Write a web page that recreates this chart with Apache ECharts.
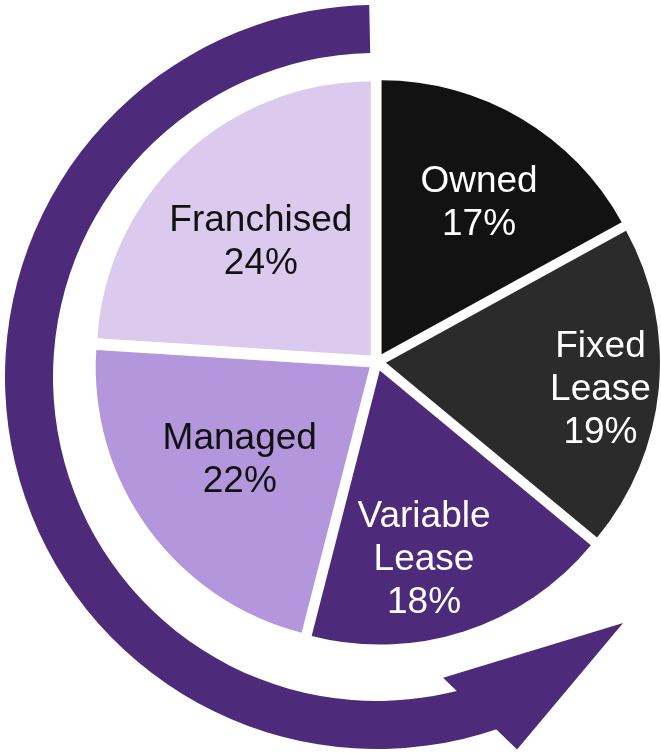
<!DOCTYPE html>
<html>
<head>
<meta charset="utf-8">
<script src="https://cdn.jsdelivr.net/npm/echarts@6/dist/echarts.min.js"></script>
<style>
  html, body { margin: 0; padding: 0; background: #fff; }
  #main { width: 661px; height: 753px; }
</style>
</head>
<body>
<div id="main"></div>
<script>
// data
const categories = ['Owned', 'Fixed Lease', 'Variable Lease', 'Managed', 'Franchised'];
const shares = [17, 19, 18, 22, 24];
const sliceColors = ['#121212', '#2b2b2b', '#4e2a7a', '#b396db', '#dccaee'];
const labelColors = ['#fff', '#fff', '#fff', '#111', '#111'];
// label spot: angle (deg clockwise from top) and distance from pie centre
const labelAngle = [32.8, 97.1, 166.7, 234.5, 315.8];
const labelDist = [185.5, 222.2, 200.3, 165.6, 163.6];

const pieCenter = [377, 362];
const pieR = 274;
const explode = 9;
const arcCenter = [377, 377];
const purple = '#4e2a7a';

const total = shares.reduce((a, b) => a + b, 0);
// bisector of each slice, degrees clockwise from 12 o'clock
const mids = [];
let acc = 0;
shares.forEach(v => { mids.push((acc + v / 2) / total * 360); acc += v; });

function dir(deg) {
  const a = deg * Math.PI / 180;
  return [Math.sin(a), -Math.cos(a)];
}

// point on the arrow circle, angle clockwise from top
function polar(deg, r) {
  const d = dir(deg);
  return [arcCenter[0] + r * d[0], arcCenter[1] + r * d[1]];
}

const chart = echarts.init(document.getElementById('main'));
const option = {
  animation: false,
  backgroundColor: '#fff',
  graphic: [
    {
      type: 'sector',
      z: 1,
      shape: {
        cx: arcCenter[0], cy: arcCenter[1], r0: 324, r: 372,
        startAngle: 71 * Math.PI / 180,
        endAngle: 268.8 * Math.PI / 180,
        clockwise: true
      },
      style: { fill: purple }
    },
    {
      type: 'polygon',
      z: 1,
      shape: { points: [polar(135, 348), polar(167.6, 308), polar(159.4, 398)] },
      style: { fill: purple }
    }
  ],
  series: [
    {
      type: 'pie',
      center: pieCenter,
      radius: [0, pieR],
      startAngle: 90,
      clockwise: true,
      selectedMode: 'multiple',
      selectedOffset: explode,
      itemStyle: { borderWidth: 0 },
      emphasis: { disabled: true },
      label: {
        show: true,
        position: 'inside',
        fontFamily: 'Liberation Sans, Arial, sans-serif',
        fontSize: 37,
        lineHeight: 43,
        align: 'center',
        formatter: p => p.name.replace(' ', '\n') + '\n' + p.value + '%'
      },
      labelLine: { show: false },
      labelLayout: function (params) {
        const i = params.dataIndex;
        // default inside spot is half radius along the bisector (+ explode)
        const d0 = dir(mids[i]);
        const r0 = pieR / 2 + explode;
        const d1 = dir(labelAngle[i]);
        return {
          dx: d1[0] * labelDist[i] - d0[0] * r0,
          dy: d1[1] * labelDist[i] - d0[1] * r0,
          hideOverlap: false
        };
      },
      data: categories.map((name, i) => ({
        name: name,
        value: shares[i],
        selected: true,
        itemStyle: { color: sliceColors[i] },
        label: { color: labelColors[i] }
      }))
    }
  ]
};
chart.setOption(option);
</script>
</body>
</html>
